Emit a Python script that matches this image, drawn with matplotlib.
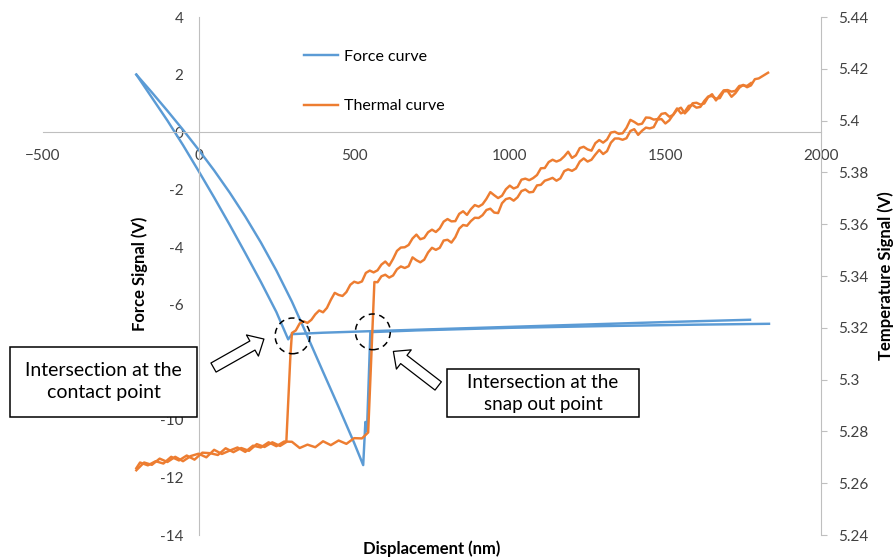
import matplotlib
matplotlib.use("Agg")
import matplotlib.pyplot as plt
from matplotlib.patches import Ellipse, Rectangle, FancyArrowPatch

plt.rcParams['font.family'] = ['Lato', 'DejaVu Sans']

BLUE = "#5B9BD5"
ORANGE = "#ED7D31"
AXIS = "#BFBFBF"
TICK = "#404040"

# force curve, approach branch (contact at ~288 nm)
force_appr_x = [-200, -150, -100, -50, 0, 50, 100, 150, 200, 250, 288,
                300, 400, 600, 900, 1200, 1500, 1772]
force_appr_y = [2.0, 1.2, 0.4, -0.45, -1.35, -2.27, -3.22, -4.2, -5.2, -6.25, -7.2,
                -7.02, -6.97, -6.90, -6.80, -6.70, -6.60, -6.52]

# force curve, retract branch (snap out at ~530 nm)
force_retr_x = [-200, -150, -100, -50, 0, 50, 100, 150, 200, 250, 300, 346, 400, 450,
                500, 529, 536, 541, 552, 700, 1000, 1300, 1600, 1833]
force_retr_y = [2.0, 1.38, 0.74, 0.08, -0.61, -1.33, -2.10, -2.93, -3.83, -4.81, -5.89,
                -7.0, -8.33, -9.55, -10.8, -11.57, -10.07, -10.4, -6.95, -6.89, -6.80,
                -6.74, -6.69, -6.66]

# thermal curve, approach: flat baseline up to the contact jump
appr_base_x = [-200, -188, -163, -138, -113, -88, -63, -38, -13, 12, 37, 62, 87, 112,
               137, 162, 187, 212, 237, 262, 282, 295]
appr_base_y = [5.2658, 5.2680, 5.2669, 5.2685, 5.2676, 5.2702, 5.2688, 5.2707, 5.2691,
               5.2718, 5.2716, 5.2709, 5.2735, 5.2720, 5.2736, 5.2725, 5.2751, 5.2740,
               5.2758, 5.2744, 5.2759, 5.3090]
# thermal curve, approach: rising branch after contact
appr_rise_x = [300, 312.5, 325, 337.5, 350, 362.5, 375, 387.5, 400, 412.5, 425, 437.5,
               450, 462.5, 475, 487.5, 500, 512.5, 525, 537.5, 550, 562.5, 575, 587.5,
               600, 612.5, 625, 637.5, 650, 662.5, 675, 687.5, 700, 712.5, 725, 737.5,
               750, 762.5, 775, 787.5, 800, 812.5, 825, 837.5, 850, 862.5, 875, 887.5,
               900, 912.5, 925, 937.5, 950, 962.5, 975, 987.5, 1000, 1012.5, 1025, 1037.5,
               1050, 1062.5, 1075, 1087.5, 1100, 1112.5, 1125, 1137.5, 1150, 1162.5, 1175,
               1187.5, 1200, 1212.5, 1225, 1237.5, 1250, 1262.5, 1275, 1287.5, 1300,
               1312.5, 1325, 1337.5, 1350, 1362.5, 1375, 1387.5, 1400, 1412.5, 1425,
               1437.5, 1450, 1462.5, 1475, 1487.5, 1500, 1512.5, 1525, 1537.5, 1550,
               1562.5, 1575, 1587.5, 1600, 1612.5, 1625, 1637.5, 1650, 1662.5, 1675,
               1687.5, 1700, 1712.5, 1725, 1737.5, 1750, 1762.5, 1775]
appr_rise_y = [5.3180, 5.3190, 5.3217, 5.3225, 5.3219, 5.3231, 5.3252, 5.3267, 5.3260,
               5.3277, 5.3308, 5.3335, 5.3327, 5.3323, 5.3338, 5.3366, 5.3378, 5.3373,
               5.3379, 5.3412, 5.3421, 5.3414, 5.3422, 5.3444, 5.3456, 5.3440, 5.3466,
               5.3497, 5.3510, 5.3511, 5.3520, 5.3545, 5.3560, 5.3542, 5.3547, 5.3569,
               5.3579, 5.3570, 5.3584, 5.3610, 5.3620, 5.3611, 5.3612, 5.3640, 5.3650,
               5.3636, 5.3658, 5.3674, 5.3668, 5.3677, 5.3698, 5.3724, 5.3712, 5.3701,
               5.3710, 5.3735, 5.3749, 5.3738, 5.3744, 5.3772, 5.3776, 5.3770, 5.3778,
               5.3790, 5.3816, 5.3817, 5.3840, 5.3849, 5.3842, 5.3848, 5.3862, 5.3880,
               5.3856, 5.3866, 5.3894, 5.3899, 5.3889, 5.3884, 5.3913, 5.3925, 5.3915,
               5.3927, 5.3954, 5.3957, 5.3949, 5.3951, 5.3972, 5.4003, 5.3995, 5.3985,
               5.3988, 5.4012, 5.4011, 5.4004, 5.4006, 5.4026, 5.4029, 5.4015, 5.4022,
               5.4042, 5.4050, 5.4028, 5.4044, 5.4067, 5.4069, 5.4062, 5.4066, 5.4091,
               5.4102, 5.4078, 5.4098, 5.4117, 5.4118, 5.4112, 5.4115, 5.4134, 5.4136,
               5.4134, 5.4145]

# thermal curve, retract: baseline up to the snap-out jump
retr_base_x = [-200, -175, -150, -125, -100, -75, -50, -25, 0, 25, 50, 75, 100, 125,
               150, 175, 200, 225, 250, 275, 300, 325, 350, 375, 400, 425, 450, 475,
               500, 525, 545]
retr_base_y = [5.2650, 5.2680, 5.2671, 5.2695, 5.2682, 5.2702, 5.2685, 5.2705, 5.2714,
               5.2700, 5.2729, 5.2713, 5.2726, 5.2738, 5.2721, 5.2745, 5.2738, 5.2758,
               5.2743, 5.2761, 5.2760, 5.2736, 5.2749, 5.2739, 5.2762, 5.2747, 5.2765,
               5.2752, 5.2774, 5.2773, 5.2796]
# thermal curve, retract: rising branch after snap out
retr_rise_x = [565, 575, 587.5, 600, 612.5, 625, 637.5, 650, 662.5, 675, 687.5, 700,
               712.5, 725, 737.5, 750, 762.5, 775, 787.5, 800, 812.5, 825, 837.5, 850,
               862.5, 875, 887.5, 900, 912.5, 925, 937.5, 950, 962.5, 975, 987.5, 1000,
               1012.5, 1025, 1037.5, 1050, 1062.5, 1075, 1087.5, 1100, 1112.5, 1125,
               1137.5, 1150, 1162.5, 1175, 1187.5, 1200, 1212.5, 1225, 1237.5, 1250,
               1262.5, 1275, 1287.5, 1300, 1312.5, 1325, 1337.5, 1350, 1362.5, 1375,
               1387.5, 1400, 1412.5, 1425, 1437.5, 1450, 1462.5, 1475, 1487.5, 1500,
               1512.5, 1525, 1537.5, 1550, 1562.5, 1575, 1587.5, 1600, 1612.5, 1625,
               1637.5, 1650, 1662.5, 1675, 1687.5, 1700, 1712.5, 1725, 1737.5, 1750,
               1762.5, 1775, 1787.5, 1800, 1830]
retr_rise_y = [5.3377, 5.3376, 5.3399, 5.3405, 5.3394, 5.3402, 5.3426, 5.3437, 5.3431,
               5.3438, 5.3472, 5.3461, 5.3453, 5.3463, 5.3491, 5.3509, 5.3501, 5.3509,
               5.3537, 5.3540, 5.3529, 5.3550, 5.3583, 5.3597, 5.3594, 5.3612, 5.3625,
               5.3624, 5.3635, 5.3655, 5.3660, 5.3645, 5.3643, 5.3681, 5.3697, 5.3701,
               5.3691, 5.3704, 5.3728, 5.3734, 5.3723, 5.3725, 5.3750, 5.3752, 5.3768,
               5.3773, 5.3779, 5.3768, 5.3777, 5.3805, 5.3812, 5.3806, 5.3815, 5.3842,
               5.3854, 5.3842, 5.3849, 5.3869, 5.3887, 5.3871, 5.3882, 5.3915, 5.3931,
               5.3931, 5.3926, 5.3932, 5.3960, 5.3967, 5.3945, 5.3961, 5.3973, 5.3970,
               5.3975, 5.4004, 5.4006, 5.3989, 5.4001, 5.4023, 5.4047, 5.4028, 5.4035,
               5.4057, 5.4060, 5.4050, 5.4053, 5.4076, 5.4093, 5.4095, 5.4085, 5.4087,
               5.4113, 5.4114, 5.4092, 5.4106, 5.4127, 5.4138, 5.4129, 5.4136, 5.4160,
               5.4163, 5.4185]

x_ticks = [-500, 0, 500, 1000, 1500, 2000]
force_ticks = [-14, -12, -10, -8, -6, -4, -2, 0, 2, 4]
force_tick_labels = ["-14", "-12", "-10", "", "-6", "-4", "-2", "0", "2", "4"]  # -8 sits under the box
temp_ticks = [5.24, 5.26, 5.28, 5.3, 5.32, 5.34, 5.36, 5.38, 5.4, 5.42, 5.44]
temp_tick_labels = ["5.24", "5.26", "5.28", "5.3", "5.32", "5.34", "5.36", "5.38",
                    "5.4", "5.42", "5.44"]

# intersection markers (x, force)
contact_pt = (302, -7.08)
snap_pt = (560, -6.94)

fig = plt.figure(figsize=(8.95, 5.6), dpi=100)
ax = fig.add_axes([0.048, 0.0446, 0.8693, 0.925])
ax2 = ax.twinx()

ax.plot(force_appr_x, force_appr_y, color=BLUE, lw=1.75, label="Force curve")
ax.plot(force_retr_x, force_retr_y, color=BLUE, lw=1.75)
ax2.plot(appr_base_x + appr_rise_x, appr_base_y + appr_rise_y, color=ORANGE, lw=1.75,
         label="Thermal curve")
ax2.plot(retr_base_x + retr_rise_x, retr_base_y + retr_rise_y, color=ORANGE, lw=1.75)

ax.set_xlim(-500, 2000)
ax.set_ylim(-14, 4)
ax2.set_ylim(5.24, 5.44)
ax.set_xticks(x_ticks)
ax.set_yticks(force_ticks)
ax.set_yticklabels(force_tick_labels)
ax2.set_yticks(temp_ticks)
ax2.set_yticklabels(temp_tick_labels)

ax.spines['left'].set_position(('data', 0))
ax.spines['bottom'].set_position(('data', 0))
for s in ['top', 'right']:
    ax.spines[s].set_visible(False)
for s in ['top', 'left', 'bottom']:
    ax2.spines[s].set_visible(False)
for s in ['left', 'bottom']:
    ax.spines[s].set_color(AXIS)
ax2.spines['right'].set_color(AXIS)

ax.tick_params(axis='x', length=0, pad=12, labelsize=11, labelcolor=TICK)
ax.tick_params(axis='y', length=0, pad=11, labelsize=11, labelcolor=TICK)
ax2.tick_params(axis='y', length=4, color=AXIS, pad=8, labelsize=11, labelcolor=TICK)

ax.set_xlabel("Displacement (nm)", fontweight='bold', fontsize=12)
ax.set_ylabel("Force Signal (V)", fontweight='bold', fontsize=12)
ax2.set_ylabel("Temperature Signal (V)", fontweight='bold', fontsize=12)
ax.xaxis.set_label_coords(0.5, -0.011)
ax.yaxis.set_label_coords(0.135, 0.505)
ax2.yaxis.set_label_coords(1.073, 0.5)

h1, l1 = ax.get_legend_handles_labels()
h2, l2 = ax2.get_legend_handles_labels()
ax2.legend(h1 + h2, l1 + l2, loc='upper left', bbox_to_anchor=(0.336, 0.937),
           frameon=False, fontsize=11.5, handlelength=2.1, handletextpad=0.35,
           labelspacing=2.2, borderpad=0, borderaxespad=0)

# dashed circles round the two intersections
for c in (contact_pt, snap_pt):
    ax2.add_patch(Ellipse(c, width=112, height=1.24, transform=ax.transData,
                          fill=False, ec='black', lw=1.1, ls=(0, (4, 3)), zorder=5))

# hollow block arrows pointing at the circles
arrow_style = "Simple, head_length=9.5, head_width=17.5, tail_width=7.5"
for tail, tip in (((48, -8.18), (210, -7.19)), ((770, -8.82), (626, -7.62))):
    ax2.add_patch(FancyArrowPatch(tail, tip, transform=ax.transData, arrowstyle=arrow_style,
                                  mutation_scale=1, fc='white', ec='black', lw=0.9,
                                  shrinkA=0, shrinkB=0, zorder=6))

# text boxes
fig.add_artist(Rectangle((0.0112, 0.2554), 0.209, 0.125, transform=fig.transFigure,
                         fc='white', ec='black', lw=1.1, zorder=5))
fig.text(0.1156, 0.3188, "Intersection at the\ncontact point", ha='center', va='center',
         fontsize=14, linespacing=1.3, zorder=6)
fig.add_artist(Rectangle((0.4994, 0.2554), 0.2145, 0.0857, transform=fig.transFigure,
                         fc='white', ec='black', lw=1.1, zorder=5))
fig.text(0.6067, 0.2973, "Intersection at the\nsnap out point", ha='center', va='center',
         fontsize=13.5, linespacing=1.3, zorder=6)

fig.savefig("out.png", dpi=100)
